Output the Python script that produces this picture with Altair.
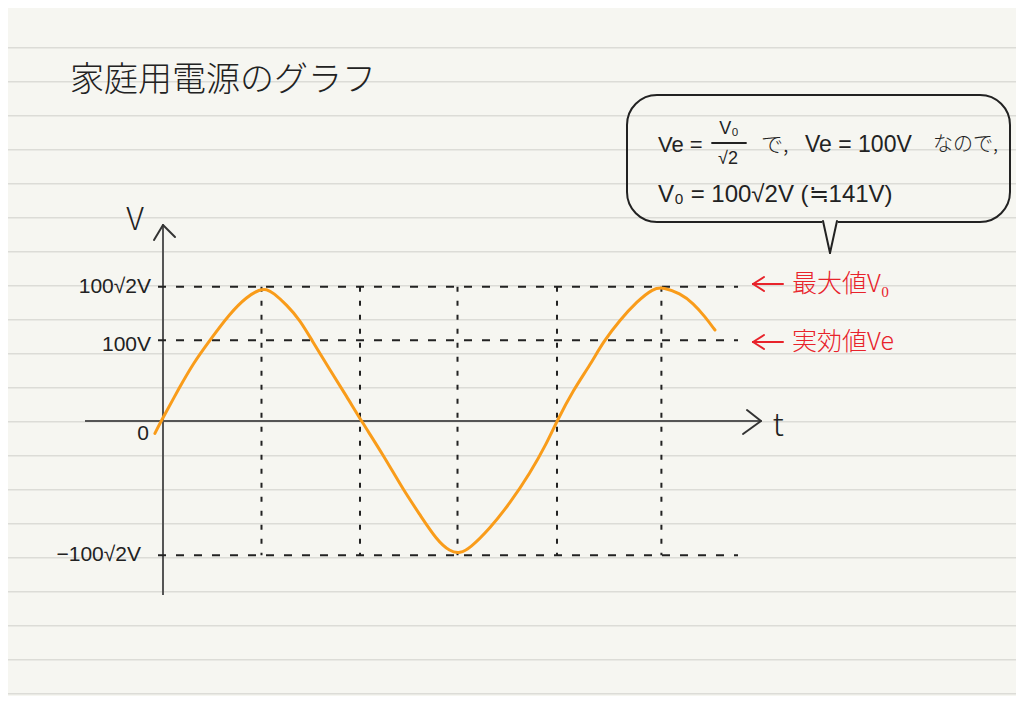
import altair as alt
import pandas as pd

# ---------------- data ----------------
title_text = "家庭用電源のグラフ"

# sampled points of the hand-drawn wave: time in ms (50 Hz mains), voltage in V
t_ms = [-0.41, -0.07, 0.86, 1.54, 2.39, 3.40, 4.25, 4.92, 5.25, 5.60, 6.28, 6.95, 7.55, 8.48, 9.33, 10.09,
        11.18, 12.20, 13.05, 13.89, 14.57, 15.08, 15.58, 16.60, 17.61, 18.63, 19.48, 19.98,
        20.83, 21.68, 22.35, 23.20, 24.05, 24.89, 25.40, 26.24, 26.92, 27.51, 28.02]
volts = [-13.0, 1.0, 36.1, 60.8, 85.3, 113.4, 130.9, 138.7, 139.0, 135.1, 122.2, 106.4, 85.3, 53.7, 25.6, -0.7,
         -35.8, -72.7, -99.0, -125.3, -137.7, -139.4, -134.1, -113.0, -86.7, -55.1, -23.5, -0.7,
         32.7, 59.0, 83.5, 106.4, 125.7, 139.8, 140.8, 134.5, 124.0, 109.9, 95.8]

# dashed guide levels (as drawn) and their labels
level_values = [141.4, 85.0, 0.0, -141.4]
level_labels = ["100√2V", "100V", "0", "−100√2V"]
# vertical dashed guides at quarter periods (ms)
guide_t = [5.0, 10.0, 14.95, 20.0, 25.3]

bubble_line1_left = "Ve ="
bubble_frac_num = "V₀"
bubble_frac_den = "√2"
bubble_line1_parts = ["で,", "Ve = 100V", "なので,"]
bubble_line2 = "V₀ = 100√2V (≒141V)"
red_labels = ["最大値V₀", "実効値Ve"]

# ---------------- styling / layout ----------------
W, H = 1008, 688
BG = "#f6f6f1"
RULE = "#dcdcd7"
INK = "#222222"
RED = "#e8232b"
ORANGE = "#f99c1a"
FONT = "Noto Sans CJK JP"
MATH = "Liberation Sans, Noto Sans CJK JP"

xs = alt.Scale(domain=[-7.868, 43.30], nice=False, zero=False)
ys = alt.Scale(domain=[-289.7, 435.0], nice=False, zero=False)

dummy = pd.DataFrame({"a": [0]})
layers = []


def seg(x1, y1, x2, y2, color=INK, width=2.0, dash=None):
    kw = dict(color=color, strokeWidth=width, strokeCap="round")
    if dash:
        kw["strokeDash"] = dash
    return alt.Chart(dummy).mark_rule(**kw).encode(
        x=alt.value(x1), y=alt.value(y1), x2=alt.value(x2), y2=alt.value(y2))


def txt(s, x, y, size, color=INK, align="left", weight=300, font=FONT):
    return alt.Chart(dummy).mark_text(
        text=s, align=align, baseline="middle", font=font, fontSize=size,
        fontWeight=weight, color=color).encode(x=alt.value(x), y=alt.value(y))


# notebook ruled lines
for k in range(20):
    yy = 39.7 + 34 * k
    layers.append(seg(0, yy, W, yy, color=RULE, width=1.6))

# title
layers.append(txt(title_text, 62, 73, 34))

# speech bubble
layers.append(alt.Chart(dummy).mark_rect(
    cornerRadius=30, fillOpacity=0, stroke=INK, strokeWidth=2).encode(
    x=alt.value(619), x2=alt.value(1002), y=alt.value(87), y2=alt.value(214)))
layers.append(seg(816, 214, 828, 214, color=BG, width=4))
layers.append(seg(815, 213, 822, 245))
layers.append(seg(829, 213, 822, 245))

layers.append(txt(bubble_line1_left, 650, 137, 22, font=MATH))
layers.append(txt(bubble_frac_num, 721, 121, 18, align="center", font=MATH))
layers.append(seg(704, 135, 738, 135, width=1.8))
layers.append(txt(bubble_frac_den, 720, 151, 18, align="center", font=MATH))
layers.append(txt(bubble_line1_parts[0], 753, 137, 22))
layers.append(txt(bubble_line1_parts[1], 797, 137, 23, font=MATH))
layers.append(txt(bubble_line1_parts[2], 925, 137, 20))
layers.append(txt(bubble_line2, 650, 187, 24, font=MATH))

# axes
layers.append(alt.Chart(dummy).mark_rule(color="#555555", strokeWidth=2).encode(
    x=alt.value(77), x2=alt.value(753), y=alt.YDatum(0, type="quantitative", scale=ys, axis=None)))
layers.append(seg(753, 413, 739, 402, color="#333333"))
layers.append(seg(753, 413, 735, 426, color="#333333"))
layers.append(alt.Chart(dummy).mark_rule(color="#555555", strokeWidth=2).encode(
    x=alt.XDatum(0, type="quantitative", scale=xs, axis=None), y=alt.value(217), y2=alt.value(587)))
layers.append(seg(155, 217, 146, 232, color="#333333"))
layers.append(seg(155, 217, 167, 229, color="#333333"))
layers.append(txt("V", 127, 212, 32, align="center"))
layers.append(txt("t", 770, 418, 32, align="center"))

# horizontal dashed guides
hdf = pd.DataFrame({"v": [level_values[0], level_values[1], level_values[3]]})
layers.append(alt.Chart(hdf).mark_rule(color=INK, strokeWidth=2, strokeDash=[8, 10]).encode(
    x=alt.value(150), x2=alt.value(730), y=alt.Y("v:Q", scale=ys, axis=None)))

# vertical dashed guides
vdf = pd.DataFrame({"t": guide_t, "top": [level_values[0]] * len(guide_t),
                    "bottom": [level_values[3]] * len(guide_t)})
layers.append(alt.Chart(vdf).mark_rule(color=INK, strokeWidth=2, strokeDash=[5, 9]).encode(
    x=alt.X("t:Q", scale=xs, axis=None), y=alt.Y("top:Q", scale=ys, axis=None), y2="bottom:Q"))

# y labels
label_layout = [(143, 0), (143, 5), (141, 13), (133, 0)]
for v, lab, (xr, dy) in zip(level_values, level_labels, label_layout):
    layers.append(alt.Chart(pd.DataFrame({"v": [v], "label": [lab]})).mark_text(
        align="right", baseline="middle", dy=dy, font=MATH, fontSize=21,
        color=INK).encode(x=alt.value(xr), y=alt.Y("v:Q", scale=ys, axis=None), text="label:N"))

# the wave
wave = pd.DataFrame({"t": t_ms, "v": volts})
layers.append(alt.Chart(wave).mark_line(
    color=ORANGE, strokeWidth=3, interpolate="basis", strokeCap="round").encode(
    x=alt.X("t:Q", scale=xs, axis=None), y=alt.Y("v:Q", scale=ys, axis=None), order="t:Q"))

# red annotations
for yy, lab in zip([276, 334], red_labels):
    layers.append(seg(745, yy, 775, yy, color=RED, width=2))
    layers.append(seg(745, yy, 756, yy - 7, color=RED, width=2))
    layers.append(seg(745, yy, 756, yy + 7, color=RED, width=2))
    layers.append(txt(lab, 784, yy, 25, color=RED))

chart = alt.layer(*layers).properties(
    width=W, height=H, background=BG, padding=0,
    autosize=alt.AutoSizeParams(type="none"),
).configure_view(stroke=None)

chart.save("out.html", embed_options={"renderer": "svg", "actions": False})
